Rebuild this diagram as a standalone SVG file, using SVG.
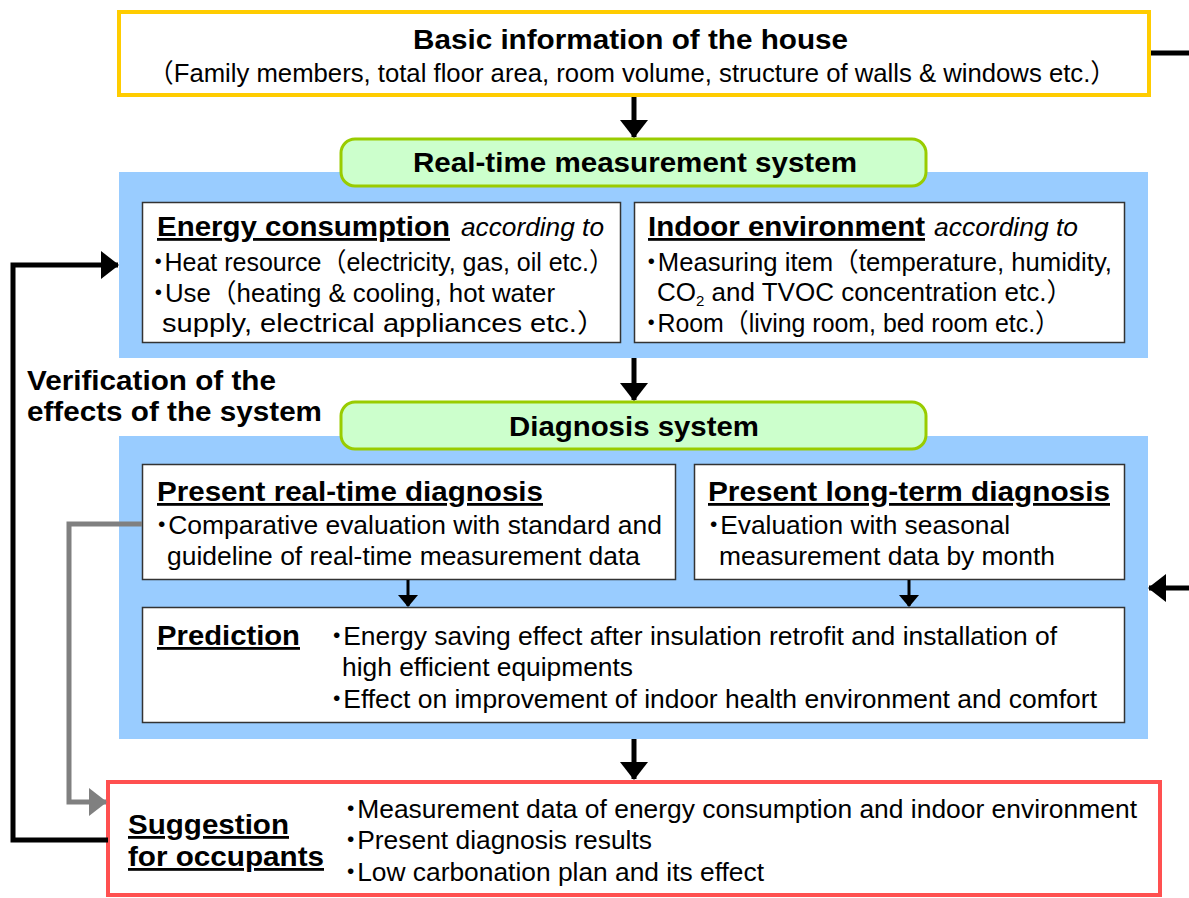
<svg xmlns="http://www.w3.org/2000/svg" width="1189" height="898" viewBox="0 0 1189 898">
<defs>
<style>
.b{font-family:"Liberation Sans","Noto Sans CJK JP",sans-serif;font-weight:bold;font-size:28px;fill:#000}
.r{font-family:"Liberation Sans","Noto Sans CJK JP",sans-serif;font-size:26px;fill:#000}
.i{font-family:"Liberation Sans",sans-serif;font-style:italic;font-size:25px;fill:#000}
.u{text-decoration:underline}
.d{font-feature-settings:"palt"}
.box{fill:#fff;stroke:#333;stroke-width:1.5}
.band{fill:#99CCFF}
.pill{fill:#CCFFCC;stroke:#99CC00;stroke-width:3}
.con{fill:none;stroke:#000;stroke-width:5}
.gcon{fill:none;stroke:#808080;stroke-width:5}
.scon{fill:none;stroke:#000;stroke-width:3}
</style>
<marker id="ah" markerUnits="userSpaceOnUse" markerWidth="18" markerHeight="28" refX="17" refY="14" orient="auto"><path d="M0,0 L18,14 L0,28 z" fill="#000"/></marker>
<marker id="gah" markerUnits="userSpaceOnUse" markerWidth="18" markerHeight="28" refX="17" refY="14" orient="auto"><path d="M0,0 L18,14 L0,28 z" fill="#808080"/></marker>
<marker id="sah" markerUnits="userSpaceOnUse" markerWidth="12" markerHeight="20" refX="11" refY="10" orient="auto"><path d="M0,0 L12,10 L0,20 z" fill="#000"/></marker>
</defs>

<g id="house">
<rect x="119" y="12" width="1030" height="83" fill="#fff" stroke="#FFCC00" stroke-width="4"/>
<text class="b" x="413" y="49" textLength="435" lengthAdjust="spacingAndGlyphs">Basic information of the house</text>
<text class="r" x="148" y="82" textLength="968" lengthAdjust="spacingAndGlyphs">（Family members, total floor area, room volume, structure of walls &amp; windows etc.）</text>
</g>

<g id="measurement">
<rect class="band" x="119" y="172" width="1029" height="186"/>
<rect class="pill" x="341" y="139" width="585" height="47" rx="14"/>
<text class="b" x="413" y="172" textLength="444" lengthAdjust="spacingAndGlyphs">Real-time measurement system</text>
</g>

<g id="energy">
<rect class="box" x="142.5" y="202.5" width="478" height="140"/>
<text class="b u" x="157" y="236" textLength="293" lengthAdjust="spacingAndGlyphs">Energy consumption</text>
<text class="i" x="461" y="236" textLength="143" lengthAdjust="spacingAndGlyphs">according to</text>
<text class="r" x="152" y="271" textLength="462" lengthAdjust="spacingAndGlyphs"><tspan class="d">・</tspan>Heat resource（electricity, gas, oil etc.）</text>
<text class="r" x="152" y="302" textLength="403" lengthAdjust="spacingAndGlyphs"><tspan class="d">・</tspan>Use（heating &amp; cooling, hot water</text>
<text class="r" x="162" y="332" textLength="444" lengthAdjust="spacingAndGlyphs">supply, electrical appliances etc.）</text>
</g>

<g id="indoor">
<rect class="box" x="634.5" y="202.5" width="490" height="140"/>
<text class="b u" x="648" y="236" textLength="277" lengthAdjust="spacingAndGlyphs">Indoor environment</text>
<text class="i" x="934" y="236" textLength="144" lengthAdjust="spacingAndGlyphs">according to</text>
<text class="r" x="645" y="271" textLength="467" lengthAdjust="spacingAndGlyphs"><tspan class="d">・</tspan>Measuring item（temperature, humidity,</text>
<text class="r" x="657" y="301">CO<tspan dy="5" font-size="15">2</tspan><tspan dy="-5"> and TVOC concentration etc.）</tspan></text>
<text class="r" x="645" y="332" textLength="415" lengthAdjust="spacingAndGlyphs"><tspan class="d">・</tspan>Room（living room, bed room etc.）</text>
</g>

<g id="verification">
<text class="b" x="27" y="390" font-size="27" textLength="249" lengthAdjust="spacingAndGlyphs">Verification of the</text>
<text class="b" x="27" y="421" font-size="27" textLength="295" lengthAdjust="spacingAndGlyphs">effects of the system</text>
</g>

<g id="diagnosis">
<rect class="band" x="119" y="436" width="1029" height="303"/>
<rect class="pill" x="341" y="402" width="585" height="47" rx="14"/>
<text class="b" x="509" y="436" textLength="250" lengthAdjust="spacingAndGlyphs">Diagnosis system</text>
</g>

<g id="realtime">
<rect class="box" x="142.5" y="464.5" width="533" height="115"/>
<text class="b u" x="157" y="501" textLength="386" lengthAdjust="spacingAndGlyphs">Present real-time diagnosis</text>
<text class="r" x="155" y="534" textLength="507" lengthAdjust="spacingAndGlyphs"><tspan class="d">・</tspan>Comparative evaluation with standard and</text>
<text class="r" x="167" y="565" textLength="473" lengthAdjust="spacingAndGlyphs">guideline of real-time measurement data</text>
</g>

<g id="longterm">
<rect class="box" x="694.5" y="464.5" width="430" height="115"/>
<text class="b u" x="708" y="501" textLength="402" lengthAdjust="spacingAndGlyphs">Present long-term diagnosis</text>
<text class="r" x="707" y="534" textLength="303" lengthAdjust="spacingAndGlyphs"><tspan class="d">・</tspan>Evaluation with seasonal</text>
<text class="r" x="719" y="565" textLength="336" lengthAdjust="spacingAndGlyphs">measurement data by month</text>
</g>

<g id="prediction">
<rect class="box" x="142.5" y="607.5" width="982" height="115"/>
<text class="b u" x="157" y="645" textLength="143" lengthAdjust="spacingAndGlyphs">Prediction</text>
<text class="r" x="330" y="645" textLength="727" lengthAdjust="spacingAndGlyphs"><tspan class="d">・</tspan>Energy saving effect after insulation retrofit and installation of</text>
<text class="r" x="342" y="676" textLength="291" lengthAdjust="spacingAndGlyphs">high efficient equipments</text>
<text class="r" x="330" y="708" textLength="767" lengthAdjust="spacingAndGlyphs"><tspan class="d">・</tspan>Effect on improvement of indoor health environment and comfort</text>
</g>

<g id="suggestion">
<rect x="108" y="782" width="1052" height="113" fill="#fff" stroke="#FF5050" stroke-width="4"/>
<text class="b u" x="128" y="834" textLength="161" lengthAdjust="spacingAndGlyphs">Suggestion</text>
<text class="b u" x="128" y="866" textLength="196" lengthAdjust="spacingAndGlyphs">for occupants</text>
<text class="r" x="344" y="818" textLength="793" lengthAdjust="spacingAndGlyphs"><tspan class="d">・</tspan>Measurement data of energy consumption and indoor environment</text>
<text class="r" x="344" y="849" textLength="308" lengthAdjust="spacingAndGlyphs"><tspan class="d">・</tspan>Present diagnosis results</text>
<text class="r" x="344" y="881" textLength="420" lengthAdjust="spacingAndGlyphs"><tspan class="d">・</tspan>Low carbonation plan and its effect</text>
</g>

<g id="connectors">
<line class="con" x1="1151" y1="53" x2="1189" y2="53"/>
<line class="con" x1="634" y1="97" x2="634" y2="137" marker-end="url(#ah)"/>
<line class="con" x1="634" y1="358" x2="634" y2="400" marker-end="url(#ah)"/>
<line class="con" x1="634" y1="739" x2="634" y2="779" marker-end="url(#ah)"/>
<line class="scon" x1="408" y1="580" x2="408" y2="606" marker-end="url(#sah)"/>
<line class="scon" x1="909" y1="580" x2="909" y2="606" marker-end="url(#sah)"/>
<line class="con" x1="1189" y1="588" x2="1149" y2="588" marker-end="url(#ah)"/>
<polyline class="con" points="108,840 13,840 13,265 118,265" marker-end="url(#ah)"/>
<polyline class="gcon" points="142,524 69,524 69,802 106,802" marker-end="url(#gah)"/>
</g>
</svg>
